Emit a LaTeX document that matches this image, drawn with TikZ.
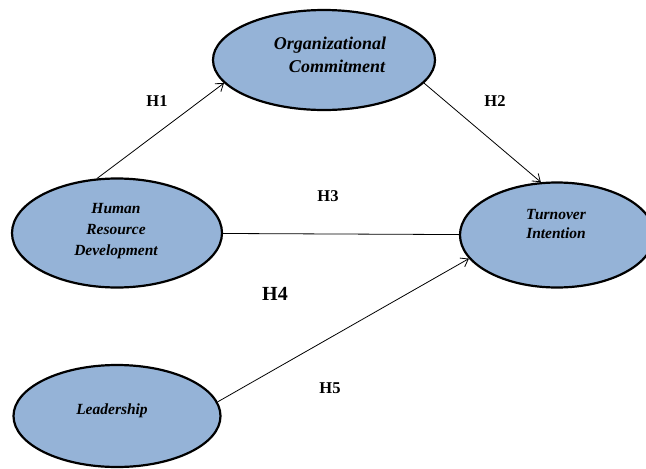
\documentclass[tikz,border=0pt]{standalone}
\usepackage{fontspec}
\setmainfont{Liberation Serif}
\usetikzlibrary{arrows.meta,shapes.geometric}
\definecolor{varblue}{HTML}{95B3D7}

\begin{document}
\begin{tikzpicture}[x=1pt,y=-1pt,>={Straight Barb[length=7pt,width=10pt]},
 var/.style={ellipse,draw,line width=2.2pt,fill=varblue,inner sep=0pt},
 vtext/.style={align=center,font=\bfseries\itshape\fontsize{15.5}{21}\selectfont},
 hyp/.style={font=\bfseries\fontsize{16.5}{18}\selectfont},
 link/.style={line width=0.8pt}]
\useasboundingbox (0,0) rectangle (646,469);
\clip (0,0) rectangle (646,469);
% constructs
\node[var,minimum width=222pt,minimum height=100pt] (oc) at (324,60) {};
\node[var,minimum width=210pt,minimum height=109pt] (hrd) at (117,233) {};
\node[var,minimum width=194pt,minimum height=105pt] (to) at (557,235) {};
\node[var,minimum width=207pt,minimum height=102pt] (lead) at (117,416) {};
\node[vtext,font=\bfseries\itshape\fontsize{18}{22.5}\selectfont] (oct) at (330,55)
 {Organizational\\\hspace*{14pt}Commitment};
\node[vtext] (hrdt) at (116,231) {Human\\Resource\\Development};
\node[vtext,font=\bfseries\itshape\fontsize{15.5}{18.5}\selectfont] (tot) at (556,224)
 {Turnover\\Intention};
\node[vtext] (leadt) at (112,411) {Leadership};
% hypotheses
\draw[link,->] (hrd.110) -- (oc.193);
\draw[link,->] (oc.347) -- (to.107);
\draw[link] (hrd) -- (to);
\draw[link,->] (lead.8) -- (to.195);
\node[hyp] (h1) at (157,101) {H1};
\node[hyp] (h2) at (495,101) {H2};
\node[hyp] (h3) at (328,196) {H3};
\node[hyp,font=\bfseries\fontsize{20}{22}\selectfont] (h4) at (275,294) {H4};
\node[hyp] (h5) at (330,388) {H5};
\end{tikzpicture}
\end{document}
